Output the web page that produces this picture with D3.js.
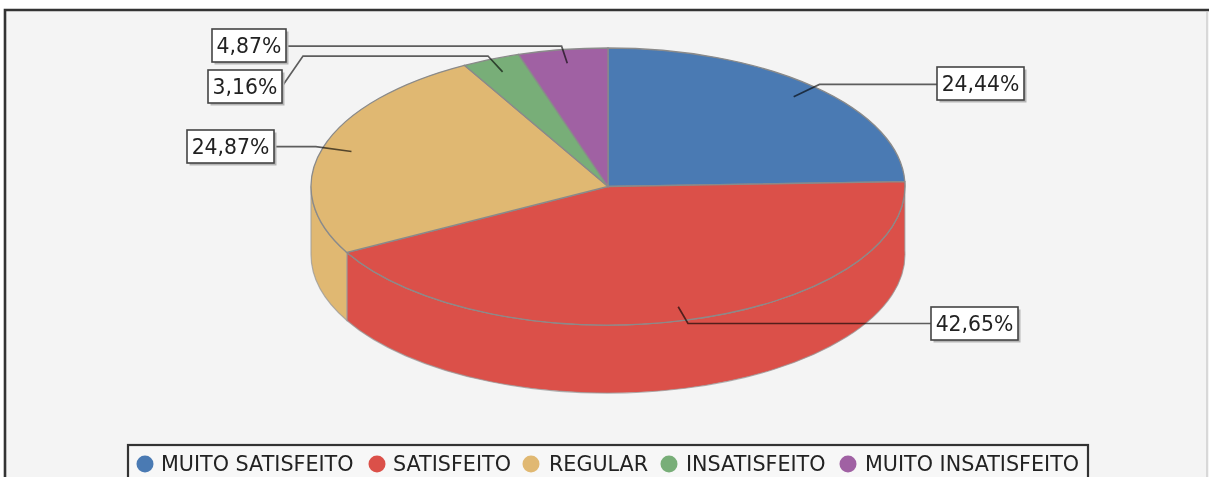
<!DOCTYPE html>
<html><head><meta charset="utf-8">
<script src="https://d3js.org/d3.v7.min.js"></script>
<style>html,body{margin:0;padding:0;background:#fff;overflow:hidden}svg{display:block;filter:blur(.6px)}text{font-family:"DejaVu Sans",sans-serif;fill:#222}</style>
</head><body><svg id="c" width="1209" height="477"></svg>
<script>
const categories = ["MUITO SATISFEITO","SATISFEITO","REGULAR","INSATISFEITO","MUITO INSATISFEITO"];
const values = [24.44,42.65,24.87,3.16,4.87];
const colors = ["#4a7ab3","#db5049","#e0b872","#78ae78","#a061a3"];
const labelBoxX = [937,931,187,208,212];
const labelBoxY = [67,307,130,70,29];
const legendSwatchX = [145,377,531,669,848];
const legendTextX = [161,393,549,686,865];

const W=1209,H=477,cx=608,cy=186.5,rx=297,ry=138.5,depth=68;
const svg=d3.select("#c");
svg.append("rect").attr("x",5).attr("y",10).attr("width",W-5).attr("height",H).attr("fill","#f4f4f4");
svg.append("path").attr("d",`M5,${H}V10H${W}`).attr("fill","none").attr("stroke","#333").attr("stroke-width",2.6);
svg.append("line").attr("x1",1207).attr("x2",1207).attr("y1",12).attr("y2",H).attr("stroke","#d8d8d8").attr("stroke-width",2);

const fmt=v=>d3.format(".2f")(v).replace(".",",")+"%";
const pie=d3.pie().sort(null).value(d=>d)(values);
const pt=(a,f=1,dy=0)=>[cx+rx*f*Math.sin(a),cy-ry*f*Math.cos(a)+dy];

const wall=svg.append("g");
pie.forEach((s,i)=>{
  const a0=Math.max(s.startAngle,Math.PI/2-0.03),a1=Math.min(s.endAngle,Math.PI*1.5);
  if(a1<=a0)return;
  const p0=pt(a0),p1=pt(a1),p2=pt(a1,1,depth),p3=pt(a0,1,depth);
  wall.append("path").attr("d",`M${p0}A${rx},${ry} 0 0 1 ${p1}L${p2}A${rx},${ry} 0 0 0 ${p3}Z`)
    .attr("fill",colors[i]).attr("stroke","#999").attr("stroke-opacity",.75).attr("stroke-width",1.2);
});

const arc=d3.arc().innerRadius(0).outerRadius(rx);
svg.append("g").attr("transform",`translate(${cx},${cy}) scale(1,${ry/rx})`)
  .selectAll("path").data(pie).join("path").attr("d",arc)
  .attr("fill",(d,i)=>colors[i]).attr("stroke","#8a8a8a").attr("stroke-width",1.3)
  .attr("vector-effect","non-scaling-stroke");

const labels=svg.append("g");
pie.forEach((s,i)=>{
  const mid=(s.startAngle+s.endAngle)/2, anchor=pt(mid,.9), elbow=pt(mid,1.025);
  const bw=values[i]>=10?87:74, bh=33, bx=labelBoxX[i], by=labelBoxY[i];
  const left=anchor[0]<cx, edge=left?bx+bw:bx;
  let pts;
  if(Math.abs(elbow[1]-(by+bh/2))<6) pts=[anchor,elbow,[edge,elbow[1]]];
  else pts=[anchor,elbow,[303,elbow[1]],[edge,by+bh/2]];
  labels.append("polyline").attr("points",pts.join(" ")).attr("fill","none").attr("stroke","#000").attr("stroke-opacity",.62).attr("stroke-width",1.7);
  labels.append("rect").attr("x",bx+2.5).attr("y",by+2.5).attr("width",bw).attr("height",bh).attr("fill","#b5b5b5");
  labels.append("rect").attr("x",bx).attr("y",by).attr("width",bw).attr("height",bh).attr("fill","#fff").attr("stroke","#444").attr("stroke-width",1.6);
  labels.append("text").attr("x",bx+bw/2).attr("y",by+bh/2).attr("dy",".36em").attr("text-anchor","middle").attr("font-size",20.4).text(fmt(values[i]));
});

svg.append("rect").attr("x",128).attr("y",445).attr("width",960).attr("height",60).attr("fill","#f7f7f7").attr("stroke","#333").attr("stroke-width",2.2);
const leg=svg.append("g").selectAll("g").data(categories).join("g");
leg.append("circle").attr("cx",(d,i)=>legendSwatchX[i]).attr("cy",464).attr("r",8.5).attr("fill",(d,i)=>colors[i]);
leg.append("text").attr("x",(d,i)=>legendTextX[i]).attr("y",464).attr("dy",".36em").attr("font-size",20.7).text(d=>d);
</script></body></html>
